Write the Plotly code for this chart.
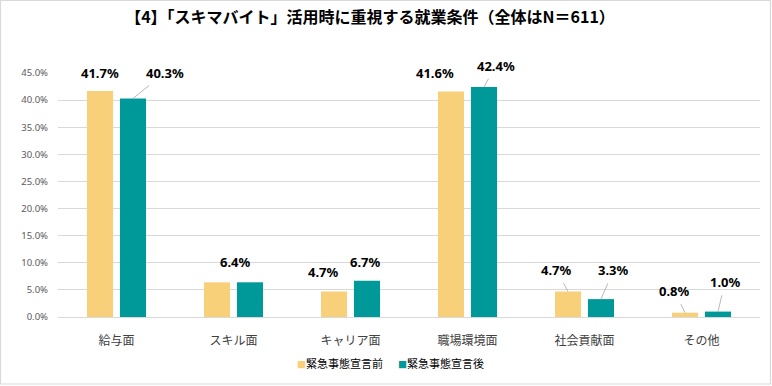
import plotly.graph_objects as go

# ---- data ----
categories = ['給与面', 'スキル面', 'キャリア面', '職場環境面', '社会貢献面', 'その他']
series_names = ['緊急事態宣言前', '緊急事態宣言後']
before_values = [41.7, 6.4, 4.7, 41.6, 4.7, 0.8]
after_values = [40.3, 6.4, 6.7, 42.4, 3.3, 1.0]
y_tick_values = [0, 5, 10, 15, 20, 25, 30, 35, 40, 45]
y_tick_labels = ['0.0%', '5.0%', '10.0%', '15.0%', '20.0%', '25.0%', '30.0%', '35.0%', '40.0%', '45.0%']
title_text = '【4】「スキマバイト」活用時に重視する就業条件（全体はN＝611）'

# ---- style ----
colors = ['#F9D07A', '#009999']
W, H = 772, 386
ML, MR, MT, MB = 58, 12, 73, 69
bar_shift = 16.5  # px offset of each bar from category centre
jp_font = 'Noto Sans CJK JP'
num_font = 'Noto Sans'
legend_ids = ['legend', 'legend2']
legend_left_px = [257, 358]
# label placement (dx, dy in px from bar top centre, leader line)
before_label_pos = [(0, -18, False), None, (-10.5, -19.6, False), (-16.5, -18, False),
                    (-11.5, -21.6, True), (-10.5, -21.7, True)]
after_label_pos = [(31.5, -25.4, True), (-15, -20.4, False), (-1.5, -19, False),
                   (11.5, -21.5, True), (12.5, -29, True), (7, -29.6, True)]

fig = go.Figure()
for name, vals, col, lg in zip(series_names, [before_values, after_values], colors, legend_ids):
    fig.add_trace(go.Bar(x=categories, y=vals, name=name, marker_color=col,
                         marker_line_width=0, showlegend=False, legendgroup=name,
                         hovertemplate='%{x}: %{y:.1f}%<extra>' + name + '</extra>'))
    # legend entry: small coloured square drawn tight to the text
    fig.add_trace(go.Scatter(x=[None], y=[None], mode='markers', legendgroup=name,
                             name=f'<span style="color:{col};font-size:9px">■</span>{name}',
                             legend=lg,
                             marker=dict(symbol='square', size=1, color='rgba(0,0,0,0)')))

annotations = []
for vals, positions, sgn in [(before_values, before_label_pos, -1), (after_values, after_label_pos, 1)]:
    for cat, v, pos in zip(categories, vals, positions):
        if pos is None:
            continue
        dx, dy, line = pos
        annotations.append(dict(
            x=cat, y=v, xref='x', yref='y', xshift=sgn * bar_shift,
            text=f'<b>{v:.1f}%</b>', showarrow=True, axref='pixel', ayref='pixel',
            ax=dx, ay=dy, arrowhead=0, arrowwidth=0.8,
            arrowcolor='#A6A6A6' if line else 'rgba(0,0,0,0)',
            startstandoff=3, standoff=0,
            font=dict(family=num_font, size=13, color='#000000')))

# chart border
border = [dict(type='rect', xref='paper', yref='paper',
               x0=(0.5 - ML) / (W - ML - MR), x1=(770.5 - ML) / (W - ML - MR),
               y0=(H - MB - 384) / (H - MT - MB), y1=(H - MB - 0.5) / (H - MT - MB),
               line=dict(color='#D9D9D9', width=1.2), fillcolor='rgba(0,0,0,0)',
               layer='below')]

legend_style = dict(orientation='h', xref='container', xanchor='left',
                    y=1 - 364 / H, yref='container', yanchor='middle',
                    font=dict(family=jp_font, size=11, color='#000000'),
                    itemwidth=30, bgcolor='rgba(0,0,0,0)')

fig.update_layout(
    width=W, height=H, autosize=False,
    margin=dict(l=ML, r=MR, t=MT, b=MB, autoexpand=False),
    paper_bgcolor='white', plot_bgcolor='white',
    barmode='group', bargap=0.436, bargroupgap=0.21,
    title=dict(text='<b>' + title_text + '</b>', x=370 / W, xref='container', xanchor='center',
               y=1 - 17 / H, yref='container', yanchor='middle',
               font=dict(family=jp_font, size=16, color='#000000')),
    xaxis=dict(showgrid=False, showline=True, linecolor='#D9D9D9', linewidth=1,
               ticks='', ticklabelstandoff=13, automargin=False,
               tickfont=dict(family=jp_font, size=12, color='#404040'), fixedrange=True),
    yaxis=dict(range=[0, 45], tickvals=y_tick_values, ticktext=y_tick_labels,
               showgrid=True, gridcolor='#D9D9D9', gridwidth=1, zeroline=False,
               showline=False, ticks='', ticklabelstandoff=9, automargin=False,
               tickfont=dict(family=num_font, size=9.5, color='#595959'), fixedrange=True),
    legend=dict(legend_style, x=legend_left_px[0] / W),
    legend2=dict(legend_style, x=legend_left_px[1] / W),
    annotations=annotations,
    shapes=border,
)

fig.write_html('out.html', config={'displayModeBar': False},
               post_script="document.body.style.margin='0';document.body.style.padding='0';")
